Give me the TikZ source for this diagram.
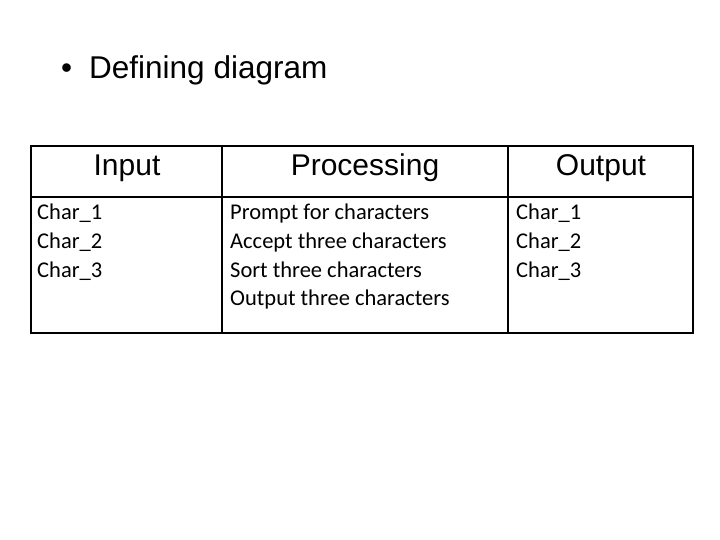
\documentclass[tikz,border=0pt]{standalone}
\usepackage{fontspec}
\setmainfont{Liberation Sans}
\newfontfamily\calib{Carlito}
\begin{document}
\begin{tikzpicture}[x=1pt,y=-1pt,
  grid/.style={line width=2.2pt,black},
  head/.style={font=\fontsize{30}{32}\selectfont,anchor=center},
  cell/.style={font=\calib\fontsize{22.5}{28.6}\selectfont,anchor=north west,align=left,inner sep=0pt}]
\useasboundingbox (0,0) rectangle (720,540);
\node[anchor=base west,inner sep=0pt,font=\fontsize{31.5}{33}\selectfont] (title) at (61,79) {\textbullet\hspace{17pt}Defining diagram};
\draw[grid] (31,146) rectangle (693,333);
\draw[grid] (31,197) -- (693,197);
\draw[grid] (222,146) -- (222,333);
\draw[grid] (508,146) -- (508,333);
\node[head] (h1) at (127,168) {Input};
\node[head] (h2) at (365,168) {Processing};
\node[head] (h3) at (601,168) {Output};
\node[cell] (c1) at (37,204) {Char\_1\\Char\_2\\Char\_3};
\node[cell] (c2) at (230,204) {Prompt for characters\\Accept three characters\\Sort three characters\\Output three characters};
\node[cell] (c3) at (516,204) {Char\_1\\Char\_2\\Char\_3};
\end{tikzpicture}
\end{document}
